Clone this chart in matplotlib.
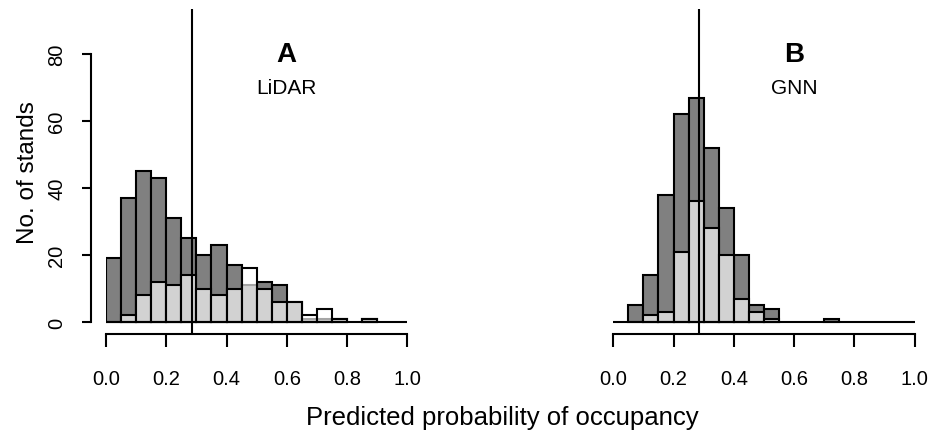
import matplotlib
matplotlib.use("Agg")
import matplotlib.pyplot as plt
import numpy as np

plt.rcParams['font.family'] = ['Liberation Sans', 'DejaVu Sans']

# Bin edges (width 0.05 from 0 to 1)
bin_edges = [round(0.05 * i, 2) for i in range(21)]

# Panel A (LiDAR): counts per bin
lidar_unocc = [19, 37, 45, 43, 31, 25, 20, 23, 17, 11, 12, 11, 6, 1, 1, 1, 0, 1, 0, 0]
lidar_occ   = [0, 2, 8, 12, 11, 14, 10, 8, 10, 16, 10, 6, 6, 2, 4, 1, 0, 1, 0, 0]

# Panel B (GNN): counts per bin
gnn_unocc = [0, 5, 14, 38, 62, 67, 52, 34, 20, 5, 4, 0, 0, 0, 1, 0, 0, 0, 0, 0]
gnn_occ   = [0, 0, 2, 3, 21, 36, 28, 20, 7, 3, 1, 0, 0, 0, 0, 0, 0, 0, 0, 0]

threshold = 0.286
x_ticks = [0.0, 0.2, 0.4, 0.6, 0.8, 1.0]
x_tick_labels = ["0.0", "0.2", "0.4", "0.6", "0.8", "1.0"]
y_ticks = [0, 20, 40, 60, 80]

W, H = 929, 431
fig = plt.figure(figsize=(W / 100, H / 100), dpi=100)

px_per_unit = 3.35
y_base_px = 323
y_bot_px = 335
y_top_px = 10
ylo = -(y_bot_px - y_base_px) / px_per_unit
yhi = (y_base_px - y_top_px) / px_per_unit

panels = [
    (106, lidar_unocc, lidar_occ, "A", "LiDAR", True),
    (613.3, gnn_unocc, gnn_occ, "B", "GNN", False),
]

lw = 1.5
for left_px, unocc, occ, letter, name, show_y in panels:
    ax = fig.add_axes([left_px / W, 1 - y_bot_px / H, 301.3 / W, (y_bot_px - y_top_px) / H])
    ax.set_xlim(0, 1)
    ax.set_ylim(ylo, yhi)
    lefts = bin_edges[:-1]
    widths = [bin_edges[i + 1] - bin_edges[i] for i in range(len(lefts))]
    for i in range(len(lefts)):
        if unocc[i] > 0:
            ax.bar(lefts[i], unocc[i], width=widths[i], align='edge',
                   facecolor='#808080', edgecolor='black', linewidth=lw, zorder=2)
    for i in range(len(lefts)):
        if occ[i] > 0:
            ax.bar(lefts[i], occ[i], width=widths[i], align='edge',
                   facecolor=(1, 1, 1, 0.65), edgecolor='black', linewidth=lw, zorder=3)
    ax.hlines(0, 0, 1, color='black', linewidth=lw, zorder=4)
    ax.axvline(threshold, color='black', linewidth=lw, zorder=5)

    for s in ['top', 'right']:
        ax.spines[s].set_visible(False)
    ax.spines['bottom'].set_bounds(0, 1)
    ax.spines['bottom'].set_linewidth(lw)
    ax.set_xticks(x_ticks)
    ax.set_xticklabels(x_tick_labels)
    ax.tick_params(axis='x', length=9.4, width=lw, labelsize=14.5, pad=16)
    if show_y:
        ax.spines['left'].set_position(('outward', 11))
        ax.spines['left'].set_bounds(0, 80)
        ax.spines['left'].set_linewidth(lw)
        ax.set_yticks(y_ticks)
        ax.tick_params(axis='y', length=6.5, width=lw, labelsize=14.5, pad=11, labelrotation=90)
        for t in ax.get_yticklabels():
            t.set_verticalalignment('center')
        ax.set_ylabel("No. of stands", fontsize=17.5, labelpad=6)
    else:
        ax.spines['left'].set_visible(False)
        ax.set_yticks([])
    ax.text(0.6, 80, letter, fontsize=20, fontweight='bold', ha='center', va='center')
    ax.text(0.6, 70, name, fontsize=15, ha='center', va='center')

fig.text(502 / W, 1 - 418 / H, "Predicted probability of occupancy", fontsize=18.5,
         ha='center', va='center')

fig.savefig("out.png", dpi=100)
